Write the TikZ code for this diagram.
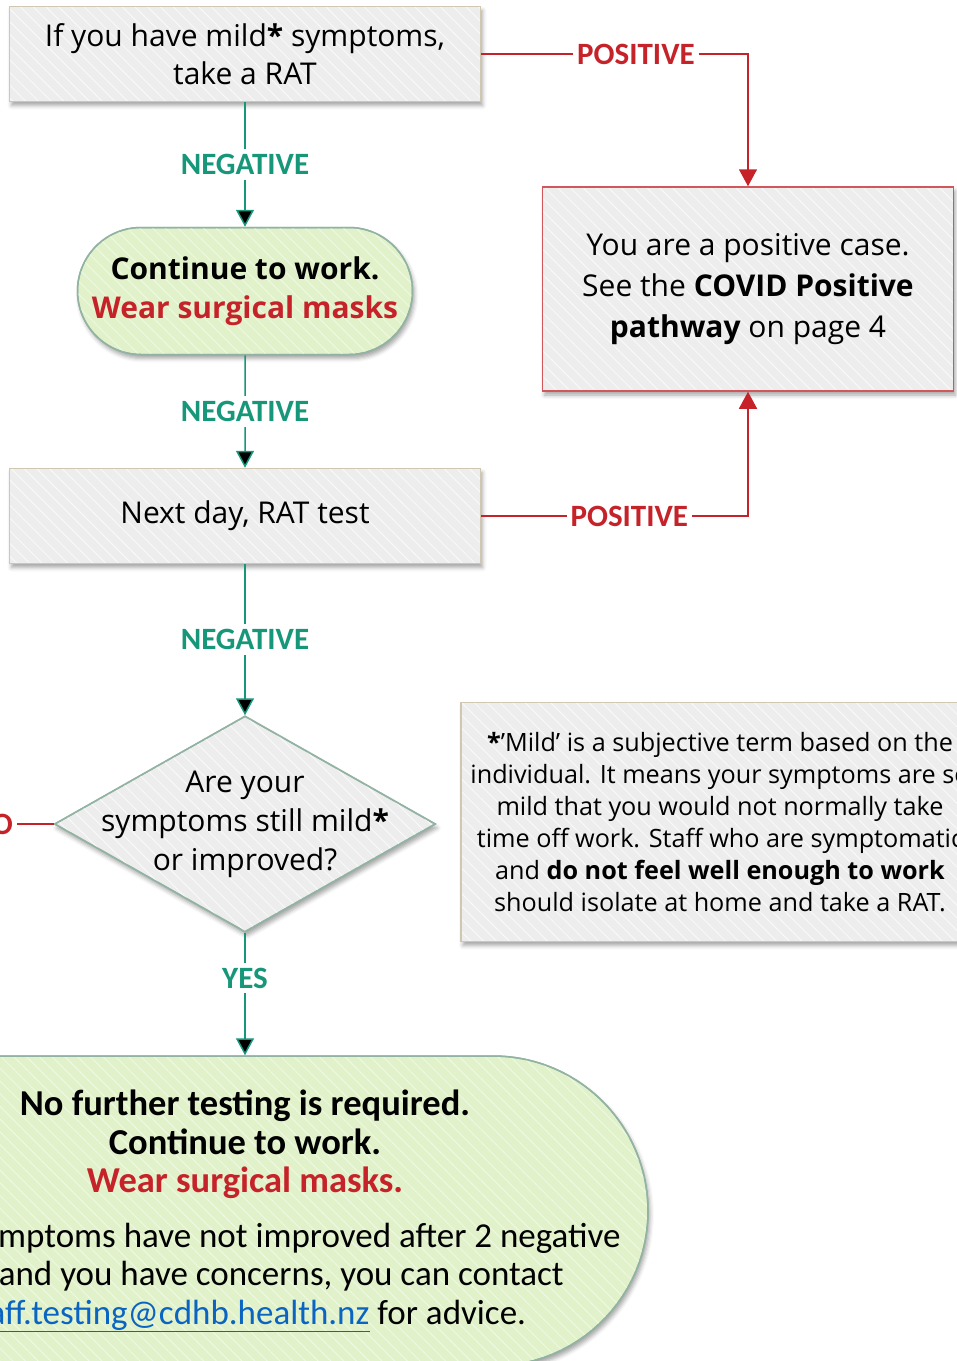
\documentclass[tikz,border=0pt]{standalone}
\usepackage{fontspec}
\setmainfont{Open Sans}
\newfontfamily\calibrifont{Carlito}
\usepackage{xcolor}
\usetikzlibrary{arrows.meta, positioning, shapes.geometric, shapes.misc, shadows.blur, patterns.meta}
\definecolor{negcol}{HTML}{17977A}
\definecolor{poscol}{HTML}{C62229}
\definecolor{boxgray}{HTML}{EDEDED}
\definecolor{boxtan}{HTML}{CFC7B0}
\definecolor{termgreen}{HTML}{E1F2CA}
\definecolor{termedge}{HTML}{92B3A3}
\definecolor{posedge}{HTML}{D2575C}
\definecolor{linkblue}{HTML}{0A64C2}
\newcommand{\plainline}[1]{{\mdseries\fontsize{35}{38.5}\selectfont #1}}
\tikzset{
    x=1pt, y=1pt, % one unit is one pixel of the reference
    arrow/.style={-{Triangle[width=18pt,length=17pt]}}, % filled arrow heads
    hatch/.style={postaction={pattern={Lines[angle=-45,distance=9pt,line width=1pt]}, pattern color=#1}, postaction={draw}}, % faint stripes, border on top
    shade/.style={blur shadow={shadow xshift=2pt, shadow yshift=-4pt, shadow blur radius=4pt, shadow opacity=35}},
    process/.style={rectangle, draw=boxtan, line width=1.5pt, fill=boxgray, hatch=white!65!boxgray, shade, align=center, inner sep=0pt, font=\fontsize{30}{38}\selectfont},
    terminal/.style={rounded rectangle, draw=termedge, line width=1.5pt, fill=termgreen, hatch=white!45!termgreen, shade, align=center, inner sep=0pt},
    decision/.style={diamond, draw=termedge, line width=1.5pt, fill=boxgray, hatch=white!65!boxgray, shade, inner sep=0pt},
    negline/.style={draw=negcol, line width=1.5pt},
    posline/.style={draw=poscol, line width=1.5pt},
    neglabel/.style={fill=white, text=negcol, inner sep=5pt, font=\calibrifont\bfseries\fontsize{31}{31}\selectfont},
    poslabel/.style={fill=white, text=poscol, inner sep=4pt, font=\calibrifont\bfseries\fontsize{31}{31}\selectfont},
}

\begin{document}
\begin{tikzpicture}[on grid]
    \useasboundingbox (0,0) rectangle (957,-1361);
    \clip (0,0) rectangle (957,-1361);

    % main column
    \node[process, minimum width=471pt, minimum height=95pt] (mild) at (245,-54) {If you have mild\textbf{*} symptoms,\\take a RAT};
    \node[terminal, minimum width=335pt, minimum height=127pt, font=\bfseries\fontsize{30}{39}\selectfont] (work) [below=237pt of mild] {Continue to work.\\\textcolor{poscol}{Wear surgical masks}};
    \node[process, minimum width=471pt, minimum height=95pt] (nextday) [below=225pt of work] {Next day, RAT test};
    \node[decision, minimum width=381pt, minimum height=216pt,
          label={[align=center, font=\fontsize{30}{39}\selectfont]center:Are your\\symptoms still mild\textbf{*}\\or improved?}] (still) [below=308pt of nextday] {};
    \node[terminal, minimum width=806pt, minimum height=310pt,
          label={[align=center, font=\calibrifont\bfseries\fontsize{36.5}{38.5}\selectfont]center:No further testing is required.\\Continue to work.\\\textcolor{poscol}{Wear surgical masks.}\\[16pt]
          \plainline{If your symptoms have not improved after 2 negative}\\\plainline{RATs and you have concerns, you can contact}\\\plainline{\textcolor{linkblue}{\underline{staff.testing@cdhb.health.nz}} for advice.}}] (done) [below=387pt of still] {};

    % side boxes
    \node[process, draw=posedge, minimum width=411pt, minimum height=204pt, font=\fontsize{30}{41}\selectfont] (poscase) at (748,-289)
        {You are a positive case.\\See the \textbf{COVID Positive}\\\textbf{pathway} on page 4};
    \node[process, minimum width=518pt, minimum height=239pt, font=\fontsize{25.2}{32}\selectfont] (mildnote) at (720,-822)
        {\textbf{*}’Mild’ is a subjective term based on the\\individual. It means your symptoms are so\\mild that you would not normally take\\time off work. Staff who are symptomatic\\and \textbf{do not feel well enough to work}\\should isolate at home and take a RAT.};
    \node[poslabel, anchor=east] (nolabel) at (17,-824) {NO};

    % transitions
    \path[negline, arrow] (mild) edge node[neglabel] {NEGATIVE} (work)
        (work) edge node[neglabel] {NEGATIVE} (nextday)
        (nextday) edge node[neglabel] {NEGATIVE} (still)
        (still) edge node[neglabel, pos=0.37] {YES} (done);
    \draw[posline, arrow] (mild.east) -- node[poslabel, pos=0.58] {POSITIVE} (mild.east -| poscase.north) -- (poscase.north);
    \draw[posline, arrow] (nextday.east) -- node[poslabel, pos=0.555] {POSITIVE} (nextday.east -| poscase.south) -- (poscase.south);
    \draw[posline] (still.west) -- (nolabel.east);
\end{tikzpicture}
\end{document}
